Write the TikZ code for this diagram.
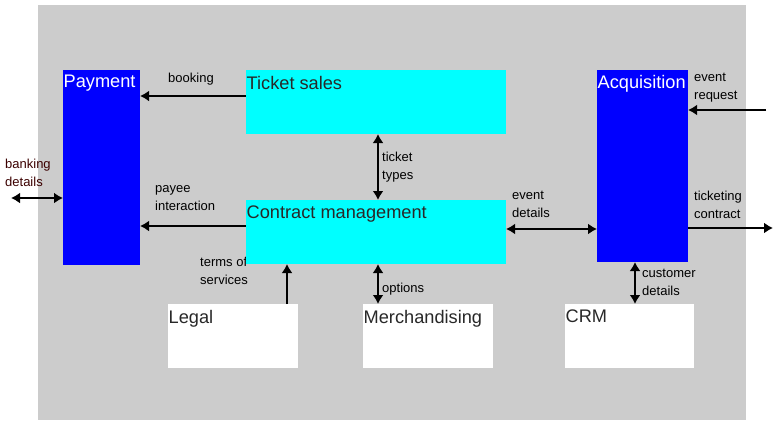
\documentclass[tikz,border=0pt]{standalone}
\usepackage{fontspec}
\setmainfont{Liberation Sans}
\usepackage{xcolor}
\usetikzlibrary{arrows.meta}
\definecolor{panelgray}{RGB}{204, 204, 204}
\definecolor{boxblue}{RGB}{0, 0, 255}
\definecolor{boxcyan}{RGB}{0, 255, 255}
\definecolor{titlegray}{RGB}{40, 40, 40}
\definecolor{darkmaroon}{RGB}{60, 0, 0}

\tikzset{
    box/.style={rectangle, anchor=north west, inner sep=0pt, outer sep=0pt},
    title/.style={anchor=north west, inner sep=0pt, font=\fontsize{18.2}{21}\selectfont, text=titlegray},
    lbl/.style={anchor=north west, inner sep=0pt, align=left, font=\fontsize{13}{18}\selectfont},
    arr/.style={-{Latex[length=9pt, width=11pt]}, line width=2.8pt},
    darr/.style={{Latex[length=9pt, width=11pt]}-{Latex[length=9pt, width=11pt]}, line width=2.8pt}
}

\begin{document}
\begin{tikzpicture}[x=1pt, y=-1pt]
    \useasboundingbox (0,0) rectangle (781,428);
    \fill[white] (0,0) rectangle (781,428);

    % Panel
    \node[box, fill=panelgray, minimum width=708pt, minimum height=415pt] (panel) at (38,5) {};

    % Label hidden partly behind contract box
    \node[lbl] (termslbl) at (200,257) {terms of\\services};

    % Blue boxes
    \node[box, fill=boxblue, minimum width=77pt, minimum height=195pt] (payment) at (63,70) {};
    \node[title, text=white] (paymentt) at (63.5,75) {Payment};
    \node[box, fill=boxblue, minimum width=91pt, minimum height=192pt] (acq) at (597,70) {};
    \node[title, text=white] (acqt) at (597.5,75) {Acquisition};

    % Cyan boxes
    \node[box, fill=boxcyan, minimum width=260pt, minimum height=64pt] (tickets) at (246,70) {};
    \node[title] (ticketst) at (246.5,76) {Ticket sales};
    \node[box, fill=boxcyan, minimum width=260pt, minimum height=64pt] (contract) at (246,200) {};
    \node[title] (contractt) at (246.5,206) {Contract management};

    % White boxes
    \node[box, fill=white, minimum width=130pt, minimum height=64pt] (legal) at (168,304) {};
    \node[title] (legalt) at (168.5,310) {Legal};
    \node[box, fill=white, minimum width=130pt, minimum height=64pt] (merch) at (363,304) {};
    \node[title] (mercht) at (363.5,310) {Merchandising};
    \node[box, fill=white, minimum width=129pt, minimum height=64pt] (crm) at (565,304) {};
    \node[title] (crmt) at (565.5,310) {CRM};

    % Free ends
    \coordinate (bankend) at (11,198);
    \coordinate (reqend) at (766,110);
    \coordinate (contractend) at (773,228);

    % Connections
    \draw[arr] ([yshift=6pt]tickets.west) -- ([yshift=6pt]tickets.west -| payment.east);
    \draw[arr] ([yshift=6pt]contract.west) -- ([yshift=6pt]contract.west -| payment.east);
    \draw[darr] (bankend) -- (bankend -| payment.west);
    \draw[darr] ([xshift=2pt]tickets.south) -- ([xshift=2pt]contract.north);
    \draw[darr] ([yshift=3pt]contract.east) -- ([yshift=3pt]contract.east -| acq.west);
    \draw[arr] (reqend) -- (reqend -| acq.east);
    \draw[arr] (contractend -| acq.east) -- (contractend);
    \draw[darr] ([xshift=-7.5pt]acq.south) -- ([xshift=-7.5pt]acq.south |- crm.north);
    \draw[arr] ([xshift=54pt]legal.north) -- ([xshift=54pt]legal.north |- contract.south);
    \draw[darr] ([xshift=2pt]contract.south) -- ([xshift=2pt]contract.south |- merch.north);

    % Labels
    \node[lbl] (bookinglbl) at (168,73) {booking};
    \node[lbl] (payeelbl) at (155,185) {payee\\interaction};
    \node[lbl, text=darkmaroon] (banklbl) at (5,159) {banking\\details};
    \node[lbl] (typeslbl) at (382,152) {ticket\\types};
    \node[lbl] (eventlbl) at (512,191) {event\\details};
    \node[lbl] (requestlbl) at (694,73) {event\\request};
    \node[lbl] (ticketinglbl) at (694,191) {ticketing\\contract};
    \node[lbl] (customerlbl) at (642,269) {customer\\details};
    \node[lbl] (optionslbl) at (382,283) {options};
\end{tikzpicture}
\end{document}
